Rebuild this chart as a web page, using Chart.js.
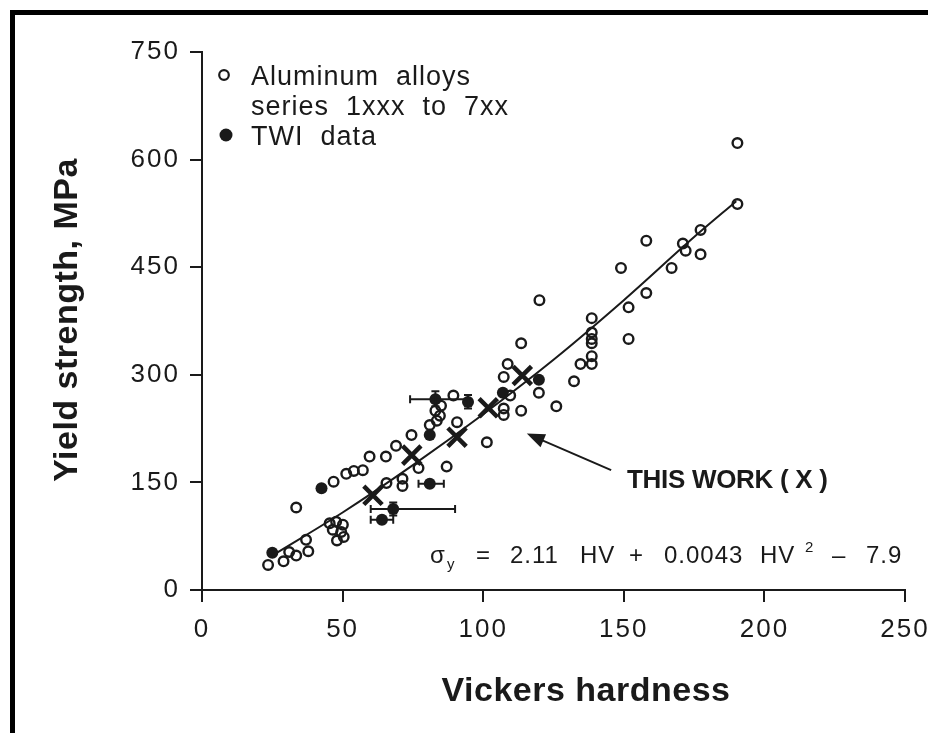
<!DOCTYPE html>
<html>
<head>
<meta charset="utf-8">
<script src="https://cdn.jsdelivr.net/npm/chart.js@4.4.0/dist/chart.umd.min.js"></script>
<style>
  html, body { margin: 0; padding: 0; background: #fff; }
  #wrap { position: relative; width: 928px; height: 733px; overflow: hidden; }
  #frame { position: absolute; left: 10px; top: 10px; width: 960px; height: 800px;
           border-left: 5px solid #000; border-top: 5px solid #000; }
  canvas { position: absolute; left: 0; top: 0; }
</style>
</head>
<body>
<div id="wrap">
  <div id="frame"></div>
  <canvas id="chart" width="928" height="733"></canvas>
</div>
<script>
// axis ticks
const xTicks = [0, 50, 100, 150, 200, 250];
const yTicks = [0, 150, 300, 450, 600, 750];

// Aluminum alloys series 1xxx to 7xxx (open circles)
const alloyHV = [23.5, 29, 31, 33.5, 37, 37.8, 33.5,
  46.8, 51.3, 54, 57.2, 59.6, 65.4, 69,
  45.4, 47.7, 50.1, 46.5, 49.5, 48, 50.4,
  65.6, 71.3, 71.3, 74.5, 77, 87, 81, 83.5, 84.6, 89.4, 85, 83, 90.7,
  101.3, 107.3, 107.3, 109.6, 113.5, 107.3, 108.7, 113.5, 119.8, 126, 120,
  132.3, 134.6, 138.6, 138.6, 138.6, 138.6, 138.6, 138.6,
  149, 151.7, 151.7, 158, 158, 167, 171, 172, 177.3, 177.3, 190.4, 190.4];
const alloyYS = [35, 40, 53, 48, 70, 54, 115,
  151, 162, 166, 167, 186, 186, 201,
  93, 95, 91, 84, 81, 69, 74,
  149, 145, 155, 216, 170, 172, 230, 236, 243, 271, 257, 250, 234,
  206, 244, 253, 271, 250, 297, 315, 344, 275, 256, 404,
  291, 315, 315, 326, 344, 350, 359, 379,
  449, 394, 350, 414, 487, 449, 483, 473, 468, 502, 538, 623];

// TWI data (filled circles) with error ranges
const twiHV  = [25, 42.5, 81, 83, 94.6, 81, 68, 64, 119.8, 107];
const twiYS  = [52, 142, 216, 266, 262, 148, 113, 98, 293, 275];
const twiXLo = [null, null, null, 74, null, 77, 60, 60, null, null];
const twiXHi = [null, null, null, 94.5, null, 86, 90, 68, null, null];
const twiYLo = [null, null, null, 256, 253, null, 104, null, null, null];
const twiYHi = [null, null, null, 277, 272, null, 122, null, null, null];

// this work (X)
const workHV = [60.8, 74.6, 90.7, 101.8, 113.9];
const workYS = [132, 188, 213, 254, 299];

// fitted curve
const fitHV = [25, 50, 75, 100, 125, 150, 175, 190];
const fitYS = [48, 108, 174, 245, 321, 404, 492, 542];

const INK = '#1a1a1a';
const FONT = '"Liberation Sans", Arial, sans-serif';

const toXY = (xs, ys) => xs.map((x, i) => ({ x, y: ys[i] }));

const annotate = {
  id: 'annotate',
  beforeDraw(chart) {
    // wider tracking for the tick numbers, like the original print
    chart.ctx.letterSpacing = '2px';
  },
  afterDatasetsDraw(chart) {
    const { ctx, scales: { x, y } } = chart;
    ctx.save();
    ctx.strokeStyle = INK;
    ctx.lineWidth = 2;
    const cap = 4;
    twiHV.forEach((hv, i) => {
      const px = x.getPixelForValue(hv), py = y.getPixelForValue(twiYS[i]);
      if (twiXLo[i] != null) {
        const a = x.getPixelForValue(twiXLo[i]), b = x.getPixelForValue(twiXHi[i]);
        ctx.beginPath();
        ctx.moveTo(a, py); ctx.lineTo(b, py);
        ctx.moveTo(a, py - cap); ctx.lineTo(a, py + cap);
        ctx.moveTo(b, py - cap); ctx.lineTo(b, py + cap);
        ctx.stroke();
      }
      if (twiYLo[i] != null) {
        const a = y.getPixelForValue(twiYLo[i]), b = y.getPixelForValue(twiYHi[i]);
        ctx.beginPath();
        ctx.moveTo(px, a); ctx.lineTo(px, b);
        ctx.moveTo(px - cap, a); ctx.lineTo(px + cap, a);
        ctx.moveTo(px - cap, b); ctx.lineTo(px + cap, b);
        ctx.stroke();
      }
    });

    // arrow pointing at the X points
    const tx = x.getPixelForValue(115.5), ty = y.getPixelForValue(218);
    const sx = x.getPixelForValue(145.5), sy = y.getPixelForValue(167);
    const ang = Math.atan2(ty - sy, tx - sx);
    ctx.beginPath();
    ctx.moveTo(sx, sy); ctx.lineTo(tx - 12 * Math.cos(ang), ty - 12 * Math.sin(ang));
    ctx.stroke();
    ctx.fillStyle = INK;
    ctx.beginPath();
    ctx.moveTo(tx, ty);
    ctx.lineTo(tx - 18 * Math.cos(ang) + 7 * Math.sin(ang), ty - 18 * Math.sin(ang) - 7 * Math.cos(ang));
    ctx.lineTo(tx - 18 * Math.cos(ang) - 7 * Math.sin(ang), ty - 18 * Math.sin(ang) + 7 * Math.cos(ang));
    ctx.closePath();
    ctx.fill();
    ctx.restore();
  },
  afterDraw(chart) {
    const { ctx } = chart;
    ctx.save();
    ctx.fillStyle = INK;
    ctx.strokeStyle = INK;
    ctx.textBaseline = 'alphabetic';

    // legend
    ctx.lineWidth = 2.2;
    ctx.beginPath(); ctx.arc(224, 75, 4.8, 0, Math.PI * 2); ctx.stroke();
    ctx.beginPath(); ctx.arc(226, 135, 6.5, 0, Math.PI * 2); ctx.fill();
    ctx.font = '27px ' + FONT;
    ctx.letterSpacing = '1px';
    ctx.textAlign = 'left';
    ctx.fillText('Aluminum  alloys', 251, 85);
    ctx.fillText('series  1xxx  to  7xx', 251, 115);
    ctx.fillText('TWI  data', 251, 145);

    // THIS WORK label
    ctx.font = 'bold 26px ' + FONT;
    ctx.letterSpacing = '-0.3px';
    ctx.fillText('THIS WORK ( X )', 627, 488);

    // equation
    ctx.font = '24px ' + FONT;
    ctx.letterSpacing = '1px';
    ctx.fillText('σ', 430, 563);
    ctx.font = '15px ' + FONT;
    ctx.fillText('y', 447, 569);
    ctx.font = '24px ' + FONT;
    ctx.fillText('=', 476, 563);
    ctx.fillText('2.11', 510, 563);
    ctx.fillText('HV', 580, 563);
    ctx.fillText('+', 629, 563);
    ctx.fillText('0.0043', 664, 563);
    ctx.fillText('HV', 760, 563);
    ctx.font = '15px ' + FONT;
    ctx.fillText('2', 805, 552);
    ctx.font = '24px ' + FONT;
    ctx.fillText('–', 832, 563);
    ctx.fillText('7.9', 866, 563);

    // axis titles
    ctx.font = 'bold 34px ' + FONT;
    ctx.letterSpacing = '0.5px';
    ctx.textAlign = 'center';
    ctx.fillText('Vickers hardness', 586, 701);
    ctx.translate(77, 320);
    ctx.rotate(-Math.PI / 2);
    ctx.fillText('Yield strength, MPa', 0, 0);
    ctx.restore();
  }
};

const axisCommon = {
  type: 'linear',
  grid: { drawOnChartArea: false, drawTicks: true, tickLength: 12, color: INK, lineWidth: 2 },
  border: { display: true, color: INK, width: 2 },
  title: { display: false }
};

new Chart(document.getElementById('chart'), {
  type: 'scatter',
  data: {
    datasets: [
      {
        label: 'THIS WORK (X)',
        data: toXY(workHV, workYS),
        pointStyle: 'crossRot',
        pointRadius: 13,
        borderWidth: 4.5,
        borderColor: INK,
        order: 0
      },
      {
        label: 'TWI data',
        data: toXY(twiHV, twiYS),
        pointStyle: 'circle',
        pointRadius: 6,
        borderWidth: 0,
        backgroundColor: INK,
        order: 1
      },
      {
        label: 'Aluminum alloys series 1xxx to 7xx',
        data: toXY(alloyHV, alloyYS),
        pointStyle: 'circle',
        pointRadius: 4.8,
        borderWidth: 2.4,
        borderColor: INK,
        backgroundColor: 'rgba(255,255,255,0)',
        order: 2
      },
      {
        type: 'line',
        label: 'fit',
        data: toXY(fitHV, fitYS),
        borderColor: INK,
        borderWidth: 2,
        pointRadius: 0,
        cubicInterpolationMode: 'monotone',
        fill: false,
        order: 3
      }
    ]
  },
  options: {
    responsive: false,
    animation: false,
    devicePixelRatio: 1,
    layout: { padding: { left: 0, right: 23, top: 52, bottom: 0 } },
    plugins: { legend: { display: false }, tooltip: { enabled: false } },
    scales: {
      x: {
        ...axisCommon,
        min: 0, max: 250,
        afterBuildTicks: (s) => { s.ticks = xTicks.map((v) => ({ value: v })); },
        afterFit: (s) => { s.height = 143; s.paddingLeft = 0; s.paddingRight = 0; },
        ticks: { color: INK, padding: 12, font: { family: FONT, size: 26 } }
      },
      y: {
        ...axisCommon,
        min: 0, max: 750,
        afterBuildTicks: (s) => { s.ticks = yTicks.map((v) => ({ value: v })); },
        afterFit: (s) => { s.width = 202; s.paddingTop = 0; s.paddingBottom = 0; },
        ticks: { color: INK, padding: 10, font: { family: FONT, size: 26 } }
      }
    }
  },
  plugins: [annotate]
});
</script>
</body>
</html>
